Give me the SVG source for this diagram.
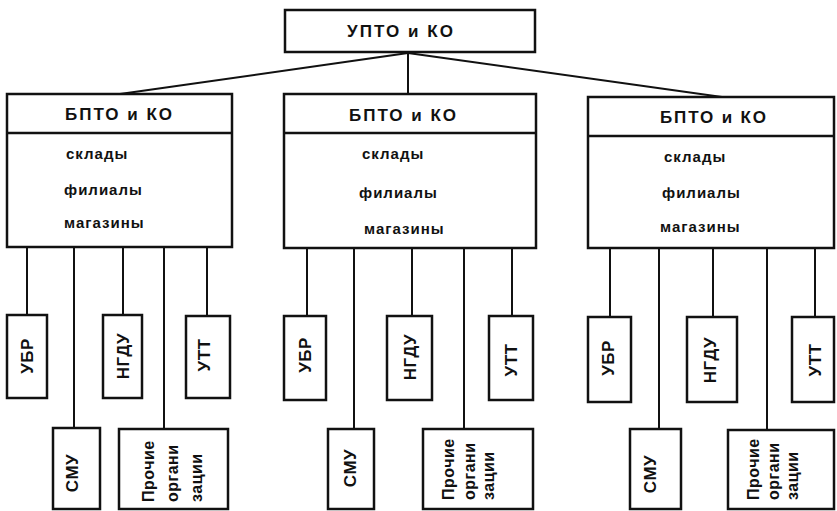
<svg xmlns="http://www.w3.org/2000/svg" width="837" height="511" viewBox="0 0 837 511">
  <style>
    .box { fill: #ffffff; stroke: #111111; stroke-width: 2.5; }
    .sep { stroke: #111111; stroke-width: 2.5; }
    .link { stroke: #111111; stroke-width: 2; fill: none; }
    text { font-family: "Liberation Sans", Arial, sans-serif; font-weight: 700; fill: #111111; }
    .head { font-size: 17px; }
    .item { font-size: 15px; letter-spacing: 1px; }
    .vlab { font-size: 17px; letter-spacing: 0.5px; text-anchor: middle; dominant-baseline: central; }
    .vline { font-size: 16px; letter-spacing: 0.5px; dominant-baseline: central; }
  </style>

  <!-- connectors -->
  <g id="connectors">
    <line class="link" x1="408" y1="53" x2="120" y2="94"/>
    <line class="link" x1="408" y1="53" x2="408" y2="94"/>
    <line class="link" x1="408" y1="53" x2="722" y2="97"/>

    <line class="link" x1="27" y1="247" x2="27" y2="315"/>
    <line class="link" x1="74" y1="247" x2="74" y2="428"/>
    <line class="link" x1="123" y1="247" x2="123" y2="315"/>
    <line class="link" x1="164" y1="247" x2="164" y2="429"/>
    <line class="link" x1="207" y1="247" x2="207" y2="316"/>

    <line class="link" x1="307" y1="248" x2="307" y2="316"/>
    <line class="link" x1="354" y1="248" x2="354" y2="429"/>
    <line class="link" x1="412" y1="248" x2="412" y2="316"/>
    <line class="link" x1="464" y1="248" x2="464" y2="429"/>
    <line class="link" x1="512" y1="248" x2="512" y2="316"/>

    <line class="link" x1="610" y1="248" x2="610" y2="317"/>
    <line class="link" x1="659" y1="248" x2="659" y2="429"/>
    <line class="link" x1="713" y1="248" x2="713" y2="317"/>
    <line class="link" x1="767" y1="248" x2="767" y2="430"/>
    <line class="link" x1="815" y1="248" x2="815" y2="317"/>
  </g>

  <!-- head office -->
  <g id="upto">
    <rect class="box" x="285" y="10" width="250" height="42"/>
    <text class="head" x="347" y="37" textLength="106" lengthAdjust="spacing">УПТО и КО</text>
  </g>

  <!-- regional bases -->
  <g id="bpto1">
    <rect class="box" x="7" y="94" width="225" height="153"/>
    <line class="sep" x1="7" y1="133" x2="232" y2="133"/>
    <text class="head" x="65" y="120" textLength="107" lengthAdjust="spacing">БПТО и КО</text>
    <text class="item" x="66" y="159">склады</text>
    <text class="item" x="64" y="195">филиалы</text>
    <text class="item" x="64" y="228">магазины</text>
  </g>
  <g id="bpto2">
    <rect class="box" x="284" y="94" width="252" height="154"/>
    <line class="sep" x1="284" y1="133" x2="536" y2="133"/>
    <text class="head" x="349" y="121" textLength="107" lengthAdjust="spacing">БПТО и КО</text>
    <text class="item" x="362" y="159">склады</text>
    <text class="item" x="359" y="198">филиалы</text>
    <text class="item" x="364" y="234">магазины</text>
  </g>
  <g id="bpto3">
    <rect class="box" x="588" y="97" width="246" height="151"/>
    <line class="sep" x1="588" y1="136" x2="834" y2="136"/>
    <text class="head" x="660" y="123" textLength="106" lengthAdjust="spacing">БПТО и КО</text>
    <text class="item" x="664" y="162">склады</text>
    <text class="item" x="662" y="198">филиалы</text>
    <text class="item" x="660" y="232">магазины</text>
  </g>

  <!-- group 1 units -->
  <g id="ubr1">
    <rect class="box" x="7" y="315" width="40" height="83"/>
    <text class="vlab" transform="translate(27,356) rotate(-90)">УБР</text>
  </g>
  <g id="smu1">
    <rect class="box" x="53" y="428" width="47" height="81"/>
    <text class="vlab" transform="translate(72,473) rotate(-90)">СМУ</text>
  </g>
  <g id="ngdu1">
    <rect class="box" x="103" y="315" width="39" height="83"/>
    <text class="vlab" transform="translate(123,356) rotate(-90)">НГДУ</text>
  </g>
  <g id="other1">
    <rect class="box" x="119" y="429" width="109" height="80"/>
    <text class="vline" transform="translate(148,502) rotate(-90)">Прочие</text>
    <text class="vline" transform="translate(172,502) rotate(-90)">органи</text>
    <text class="vline" transform="translate(196,502) rotate(-90)">зации</text>
  </g>
  <g id="utt1">
    <rect class="box" x="186" y="316" width="44" height="82"/>
    <text class="vlab" transform="translate(204,355) rotate(-90)">УТТ</text>
  </g>

  <!-- group 2 units -->
  <g id="ubr2">
    <rect class="box" x="284" y="316" width="42" height="84"/>
    <text class="vlab" transform="translate(305,355) rotate(-90)">УБР</text>
  </g>
  <g id="smu2">
    <rect class="box" x="328" y="429" width="46" height="80"/>
    <text class="vlab" transform="translate(350,468) rotate(-90)">СМУ</text>
  </g>
  <g id="ngdu2">
    <rect class="box" x="387" y="316" width="45" height="84"/>
    <text class="vlab" transform="translate(410,357) rotate(-90)">НГДУ</text>
  </g>
  <g id="other2">
    <rect class="box" x="423" y="429" width="110" height="80"/>
    <text class="vline" transform="translate(448,500) rotate(-90)">Прочие</text>
    <text class="vline" transform="translate(469,500) rotate(-90)">органи</text>
    <text class="vline" transform="translate(488,500) rotate(-90)">зации</text>
  </g>
  <g id="utt2">
    <rect class="box" x="489" y="316" width="44" height="84"/>
    <text class="vlab" transform="translate(511,360) rotate(-90)">УТТ</text>
  </g>

  <!-- group 3 units -->
  <g id="ubr3">
    <rect class="box" x="588" y="317" width="43" height="85"/>
    <text class="vlab" transform="translate(608,358) rotate(-90)">УБР</text>
  </g>
  <g id="smu3">
    <rect class="box" x="630" y="429" width="51" height="80"/>
    <text class="vlab" transform="translate(650,474) rotate(-90)">СМУ</text>
  </g>
  <g id="ngdu3">
    <rect class="box" x="687" y="317" width="50" height="85"/>
    <text class="vlab" transform="translate(710,360) rotate(-90)">НГДУ</text>
  </g>
  <g id="other3">
    <rect class="box" x="728" y="430" width="106" height="79"/>
    <text class="vline" transform="translate(753,500) rotate(-90)">Прочие</text>
    <text class="vline" transform="translate(773,500) rotate(-90)">органи</text>
    <text class="vline" transform="translate(792,500) rotate(-90)">зации</text>
  </g>
  <g id="utt3">
    <rect class="box" x="792" y="317" width="42" height="85"/>
    <text class="vlab" transform="translate(815,360) rotate(-90)">УТТ</text>
  </g>
</svg>
